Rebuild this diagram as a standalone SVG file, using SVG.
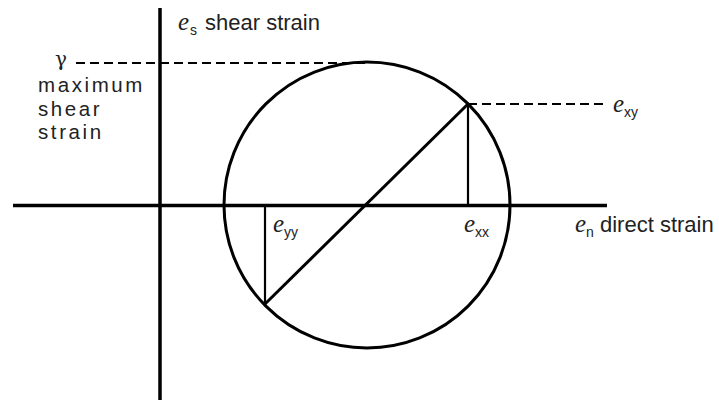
<svg xmlns="http://www.w3.org/2000/svg" width="719" height="400" viewBox="0 0 719 400">
<style>
.ax{stroke:#000;stroke-width:3.5;fill:none}
.ln{stroke:#000;stroke-width:3;fill:none}
.thin{stroke:#000;stroke-width:2.2;fill:none}
.dash{stroke:#000;stroke-width:2.2;fill:none;stroke-dasharray:9 5}
.sym{font-family:"Liberation Serif",serif;font-style:italic;font-size:25px;fill:#222}
.sub{font-family:"Liberation Sans",sans-serif;font-size:14px;fill:#222}
.lbl{font-family:"Liberation Sans",sans-serif;font-size:22px;fill:#222}
.sp{font-family:"Liberation Sans",sans-serif;font-size:20.5px;letter-spacing:2.6px;fill:#222}
</style>
<rect width="719" height="400" fill="#fff"/>
<g id="connectors">
<line class="ax" x1="160" y1="8" x2="160" y2="400"/>
<line class="ax" x1="13" y1="205.5" x2="607" y2="205.5"/>
<line class="dash" x1="76" y1="63" x2="367" y2="63"/>
<line class="dash" x1="468" y1="104" x2="603" y2="104"/>
<line class="ln" x1="265" y1="304" x2="468" y2="104"/>
<line class="thin" x1="468" y1="104" x2="468" y2="206"/>
<line class="thin" x1="265" y1="206" x2="265" y2="304"/>
</g>
<g id="mohr-circle">
<circle class="ln" cx="367" cy="205" r="143"/>
</g>
<g id="label-shear-axis">
<text x="178" y="30" class="sym">e</text><text x="190" y="35" class="sub">s</text>
<text x="205" y="30" class="lbl">shear strain</text>
</g>
<g id="label-gamma">
<text x="55" y="66" font-family="'DejaVu Serif',serif" font-size="20" fill="#222">γ</text>
<text x="38" y="92" class="sp">maximum</text>
<text x="38" y="116" class="sp">shear</text>
<text x="38" y="139" class="sp">strain</text>
</g>
<g id="label-exy">
<text x="613" y="112" class="sym">e</text><text x="624" y="117" class="sub">xy</text>
</g>
<g id="label-exx">
<text x="464" y="232" class="sym">e</text><text x="475" y="237" class="sub">xx</text>
</g>
<g id="label-eyy">
<text x="273" y="232" class="sym">e</text><text x="284" y="237" class="sub">yy</text>
</g>
<g id="label-direct-axis">
<text x="575" y="232" class="sym">e</text><text x="586" y="237" class="sub">n</text>
<text x="600" y="232" class="lbl">direct strain</text>
</g>
</svg>
